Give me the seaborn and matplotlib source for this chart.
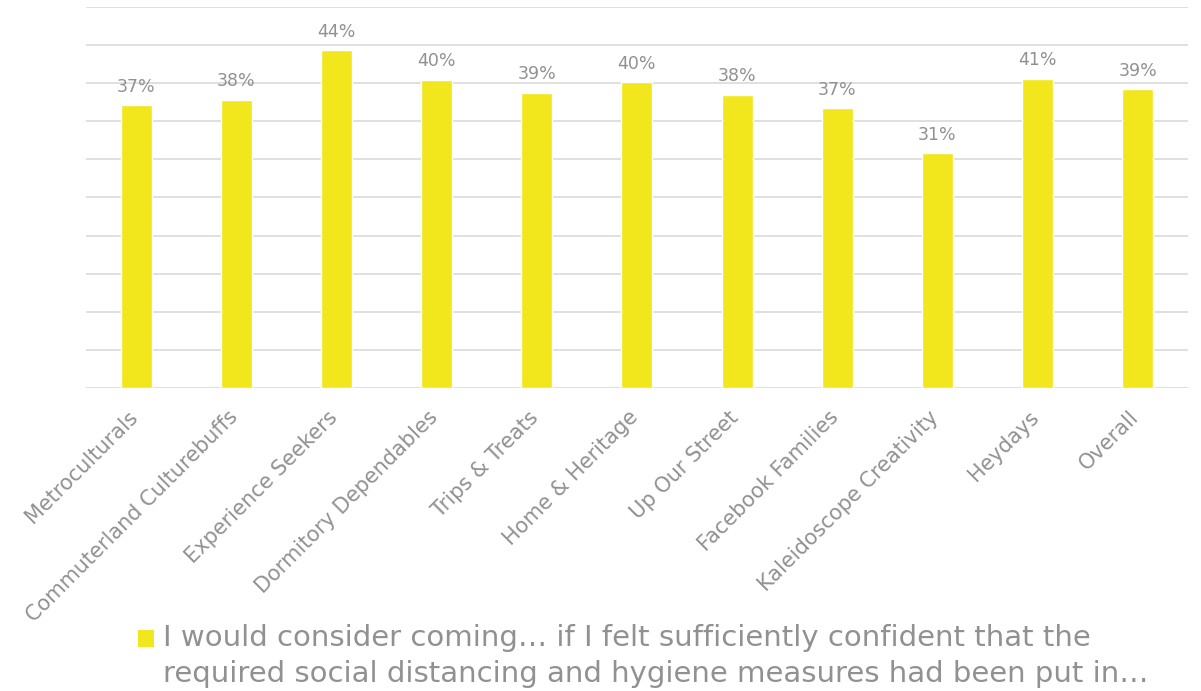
import matplotlib
matplotlib.use("Agg")
import matplotlib.pyplot as plt
import matplotlib.transforms as mtransforms
import seaborn as sns
import pandas as pd
from matplotlib.patches import Patch

categories = ["Metroculturals", "Commuterland Culturebuffs", "Experience Seekers",
              "Dormitory Dependables", "Trips & Treats", "Home & Heritage",
              "Up Our Street", "Facebook Families", "Kaleidoscope Creativity",
              "Heydays", "Overall"]
values = [37.1, 37.8, 44.3, 40.4, 38.7, 40.1, 38.5, 36.7, 30.8, 40.6, 39.2]
series_name = ("I would consider coming\u2026 if I felt sufficiently confident that the\n"
               "required social distancing and hygiene measures had been put in\u2026")

df = pd.DataFrame({"segment": categories, "value": values})

sns.set_theme(style="white")
plt.rcParams['font.family'] = ['DejaVu Sans']

BAR = "#F2E61C"
GREY = "#919191"

fig = plt.figure(figsize=(12.01, 6.91), dpi=100)
ax = fig.add_axes([0.0716, 0.4385, 0.9174, 0.5515])

sns.barplot(data=df, x="segment", y="value", color=BAR, width=0.31,
            saturation=1, ax=ax, zorder=3)

ax.set_ylim(0, 50)
ax.set_xlim(-0.5, len(categories) - 0.5)
ax.set_yticks(range(0, 51, 5))
ax.yaxis.grid(True, color="#DADADA", linewidth=1.2, zorder=0)
ax.set_axisbelow(True)
ax.tick_params(axis="y", left=False, labelleft=False)
ax.tick_params(axis="x", bottom=False, pad=2)
for s in ax.spines.values():
    s.set_visible(False)
ax.set_xlabel("")
ax.set_ylabel("")

ax.set_xticks(range(len(categories)))
ax.set_xticklabels(categories, rotation=45, ha="right", rotation_mode="anchor",
                   color=GREY, fontsize=15)
offset = mtransforms.ScaledTranslation(-9 / 100, -8 / 100, fig.dpi_scale_trans)
for lbl in ax.get_xticklabels():
    lbl.set_transform(lbl.get_transform() + offset)

for c in ax.containers:
    ax.bar_label(c, labels=[f"{v:.0f}%" for v in values], padding=7,
                 color=GREY, fontsize=12.5)

handle = Patch(facecolor=BAR, edgecolor="none")
leg = fig.legend([handle], [series_name], loc="lower left",
                 bbox_to_anchor=(0.1005, -0.021), frameon=False, fontsize=21,
                 labelcolor=GREY, handlelength=0.55, handleheight=0.55,
                 handletextpad=0.3, borderaxespad=0.2)
for t in leg.get_texts():
    t.set_linespacing(1.38)
h = leg.legend_handles[0]
h.set_y(h.get_y() + 13)

fig.savefig("out.png", dpi=100)
